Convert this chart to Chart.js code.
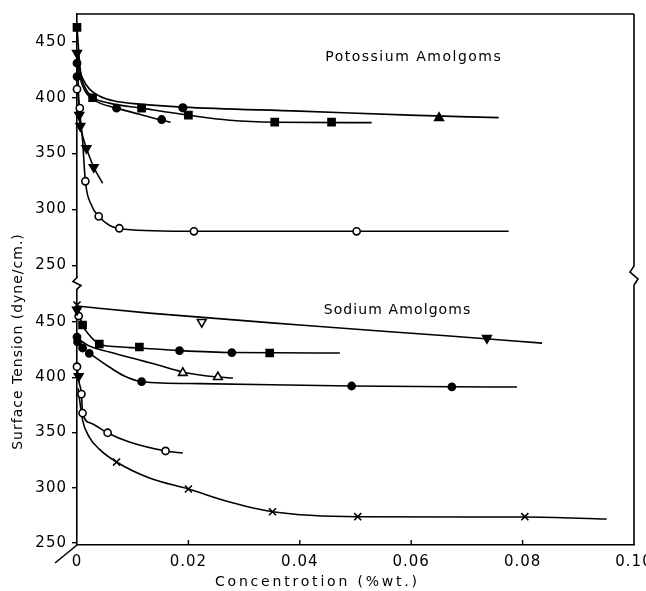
<!DOCTYPE html>
<html><head><meta charset="utf-8">
<script src="https://cdn.jsdelivr.net/npm/chart.js@4.4.1/dist/chart.umd.min.js"></script>
<style>
html,body{margin:0;padding:0;background:#fff;}
#wrap{position:relative;width:646px;height:591px;overflow:hidden;background:#fff;}
#wrap canvas{position:absolute;left:0;top:0;}
</style></head><body>
<div id="wrap"><canvas id="bot" width="646" height="591"></canvas><canvas id="top" width="646" height="591"></canvas></div>
<script>
// ---------------- data ----------------
const xTicks = [0, 0.02, 0.04, 0.06, 0.08, 0.10];
const xTickLabels = ['0', '0.02', '0.04', '0.06', '0.08', '0.10'];
const yTicks = [250, 300, 350, 400, 450];
const yTickLabels = ['250', '300', '350', '400', '450'];

const xTitle = 'Concentrotion (%wt.)';
const yTitle = 'Surface Tension (dyne/cm.)';
const topLabel = 'Potossium Amolgoms';
const botLabel = 'Sodium Amolgoms';

// Potassium amalgams: fitted curves
const kUpperCurveX = [0.0001, 0.00045, 0.00117, 0.00225, 0.004, 0.0067, 0.0112, 0.019, 0.040, 0.0597, 0.0757];
const kUpperCurveY = [442.7, 426.6, 415.8, 407.7, 401.5, 397.0, 394.3, 391.6, 388.0, 384.4, 382.2];
const kSquareCurveX = [0, 0.0006, 0.0015, 0.0028, 0.0058, 0.0116, 0.020, 0.0274, 0.0355, 0.0529];
const kSquareCurveY = [463, 424.8, 408.6, 400.6, 395.2, 390.7, 384.4, 379.9, 378.1, 377.7];
const kDotCurveX = [0.0001, 0.0005, 0.00135, 0.0031, 0.0071, 0.0112, 0.0152, 0.0168];
const kDotCurveY = [431, 419, 406.8, 397.9, 390.7, 385.3, 379.9, 378.1];
const kTriCurveX = [0.0001, 0.0004, 0.0006, 0.001, 0.0017, 0.003, 0.0046];
const kTriCurveY = [440, 384, 375, 366, 354.8, 337.8, 323.4];
const kOpenCurveX = [0.0001, 0.00045, 0.001, 0.0015, 0.0026, 0.0039, 0.0058, 0.0085, 0.021, 0.0502, 0.0775];
const kOpenCurveY = [407.7, 388.9, 362, 325.2, 303.7, 293.8, 285.8, 282.2, 280.4, 280.4, 280.5];

// Potassium amalgams: measured points
const kSquareX = [0, 0.0028, 0.0116, 0.020, 0.0355, 0.0457];
const kSquareY = [463, 400, 390.7, 384.4, 378.1, 378.1];
const kDotX = [0, 0, 0.0071, 0.0152];
const kDotY = [431, 419, 390.7, 380.5];
const kHalfX = [0.019];
const kHalfY = [391];
const kTriUpX = [0.065];
const kTriUpY = [382];
const kTriDownX = [0, 0.0004, 0.0006, 0.0017, 0.003];
const kTriDownY = [440, 384.4, 374.6, 354.8, 337.8];
const kOpenX = [0, 0.0005, 0.0015, 0.0039, 0.0076, 0.021, 0.0502];
const kOpenY = [407.7, 390.7, 325.2, 293.8, 283.1, 280.4, 280.4];

// Sodium amalgams: fitted curves
const nTopCurveX = [0, 0.013, 0.040, 0.0669, 0.0835];
const nTopCurveY = [464.5, 458.1, 447.3, 437.3, 430.9];
const nSquareCurveX = [0.0003, 0.001, 0.0022, 0.004, 0.0067, 0.0112, 0.0184, 0.0278, 0.0472];
const nSquareCurveY = [459, 447.3, 438.2, 430.1, 427.8, 426.5, 424.2, 422.4, 422];
const nTriCurveX = [0.0002, 0.0022, 0.0058, 0.0112, 0.0139, 0.019, 0.0252, 0.028];
const nTriCurveY = [434.6, 428.3, 422.9, 415.6, 412, 404.8, 400.2, 399.3];
const nDotCurveX = [0.0001, 0.001, 0.0022, 0.0058, 0.0085, 0.0116, 0.022, 0.0493, 0.0673, 0.079];
const nDotCurveY = [432, 426.5, 422, 409.3, 401.1, 396, 394.3, 392.1, 391.4, 391.2];
const nOpenCurveX = [0, 0.0004, 0.0008, 0.001, 0.0025, 0.0055, 0.0094, 0.0159, 0.019];
const nOpenCurveY = [409.6, 395, 384.8, 367.6, 358.5, 349.5, 341.4, 333.3, 331.4];
const nCrossCurveX = [0.0002, 0.001, 0.0022, 0.004, 0.0071, 0.013, 0.020, 0.0274, 0.0351, 0.0504, 0.0804, 0.0951];
const nCrossCurveY = [390, 361.3, 345.9, 335, 323.3, 308.8, 298.9, 287.1, 278.3, 273.8, 273.5, 271.7];

// Sodium amalgams: measured points
const nCrossX = [0, 0.0071, 0.020, 0.0351, 0.0504, 0.0804];
const nCrossY = [465.4, 323.3, 298.9, 278.3, 273.8, 273.8];
const nTriOpenDownX = [0.0224];
const nTriOpenDownY = [450];
const nTriDownX = [0, 0.0003, 0.0736];
const nTriDownY = [461, 401, 435.5];
const nSquareX = [0.001, 0.004, 0.0112, 0.0346];
const nSquareY = [447.3, 430.1, 427.4, 422];
const nDotX = [0.0184, 0.0278, 0, 0.0001, 0.001, 0.0022, 0.0116, 0.0493, 0.0673];
const nDotY = [424.2, 422.4, 436.4, 432, 426.5, 421.7, 396, 392.1, 391.4];
const nTriOpenUpX = [0.019, 0.0253];
const nTriOpenUpY = [404, 400.2];
const nOpenX = [0.0003, 0, 0.0008, 0.001, 0.0055, 0.0159];
const nOpenY = [455.4, 409.6, 384.8, 367.6, 349.8, 333.3];

// ---------------- helpers ----------------
const FONT = "'DejaVu Sans', sans-serif";
function pts(xs, ys) { return xs.map((x, i) => ({ x: x, y: ys[i] })); }
function curve(xs, ys) {
  return { data: pts(xs, ys), showLine: true, borderColor: '#000', borderWidth: 1.6,
    pointRadius: 0, pointHoverRadius: 0, fill: false, cubicInterpolationMode: 'monotone', order: 2, clip: false };
}
function marks(xs, ys, style, filled, r, rot) {
  return { data: pts(xs, ys), showLine: false, pointStyle: style, pointRadius: r, pointHoverRadius: r,
    rotation: rot || 0, pointBackgroundColor: filled ? '#000' : '#fff', pointBorderColor: '#000',
    pointBorderWidth: 1.6, order: 1, clip: false };
}
function yScale(min, max) {
  return {
    type: 'linear', min: min, max: max,
    afterFit(s) { s.width = 77; s.paddingTop = 0; s.paddingBottom = 0; },
    afterBuildTicks(s) { s.ticks = yTicks.map(v => ({ value: v })); },
    ticks: { color: '#000', font: { family: FONT, size: 15 }, padding: 5,
      callback: (v) => yTickLabels[yTicks.indexOf(v)] },
    grid: { drawOnChartArea: false, tickLength: 5, color: '#000', lineWidth: 1.4 },
    border: { color: '#000', width: 1.6 }
  };
}
function line(ctx, coords, w) {
  ctx.beginPath();
  ctx.moveTo(coords[0][0], coords[0][1]);
  for (let i = 1; i < coords.length; i++) ctx.lineTo(coords[i][0], coords[i][1]);
  ctx.lineWidth = w || 1.6; ctx.strokeStyle = '#000'; ctx.stroke();
}
function text(ctx, s, x, y, size, spacing, rot) {
  ctx.save();
  ctx.translate(x, y);
  if (rot) ctx.rotate(rot);
  ctx.font = size + 'px ' + FONT;
  ctx.letterSpacing = spacing + 'px';
  ctx.fillStyle = '#000';
  ctx.textAlign = 'center';
  ctx.textBaseline = 'middle';
  ctx.fillText(s, spacing / 2, 0);
  ctx.restore();
}
const spacingPlugin = { id: 'spacing', beforeDraw(chart) { chart.ctx.letterSpacing = '1px'; } };

// ---------------- top chart (Potassium) ----------------
const topFrame = {
  id: 'topFrame',
  afterDraw(chart) {
    const ctx = chart.ctx, a = chart.chartArea;
    ctx.save();
    ctx.letterSpacing = '0px';
    line(ctx, [[a.left, a.top], [a.right, a.top]]);
    line(ctx, [[a.right, a.top], [a.right, 266], [630, 272], [638, 279], [a.right, 285]]);
    text(ctx, topLabel, 413, 57, 14, 1.5);
    ctx.restore();
  }
};
new Chart(document.getElementById('top'), {
  type: 'line',
  data: { datasets: [
    curve(kUpperCurveX, kUpperCurveY), curve(kSquareCurveX, kSquareCurveY), curve(kDotCurveX, kDotCurveY),
    curve(kTriCurveX, kTriCurveY), curve(kOpenCurveX, kOpenCurveY),
    marks(kSquareX, kSquareY, 'rect', true, 5), marks(kDotX, kDotY, 'circle', true, 3.6),
    marks(kHalfX, kHalfY, 'circle', true, 3.8), marks(kTriUpX, kTriUpY, 'triangle', true, 5),
    marks(kTriDownX, kTriDownY, 'triangle', true, 5, 180), marks(kOpenX, kOpenY, 'circle', false, 3.6)
  ] },
  options: {
    responsive: false, animation: false, events: [],
    layout: { padding: { left: 0, top: 14, right: 12, bottom: 591 - 276.4 } },
    plugins: { legend: { display: false }, tooltip: { enabled: false } },
    scales: {
      x: { type: 'linear', min: 0, max: 0.1, display: false },
      y: yScale(240, 475)
    }
  },
  plugins: [spacingPlugin, topFrame]
});

// ---------------- bottom chart (Sodium) ----------------
const botFrame = {
  id: 'botFrame',
  afterDraw(chart) {
    const ctx = chart.ctx, a = chart.chartArea, xs = chart.scales.x;
    ctx.save();
    ctx.letterSpacing = '0px';
    line(ctx, [[a.right, 285], [a.right, a.bottom]]);
    line(ctx, [[a.left, 276.4], [a.left, 277.5], [a.left - 4, 281.5], [a.left + 4, 285.5], [a.left, 289.2], [a.left, a.top]]);
    line(ctx, [[a.left, a.bottom], [a.left - 22, a.bottom + 18]]);
    xTicks.forEach(v => { if (v > 0 && v < 0.1) { const px = xs.getPixelForValue(v); line(ctx, [[px, a.bottom], [px, a.bottom - 5]], 1.4); } });
    text(ctx, botLabel, 397, 310, 14, 1.1);
    text(ctx, xTitle, 316, 582, 14, 2.8);
    text(ctx, yTitle, 18, 342, 14, 1, -Math.PI / 2);
    ctx.restore();
  }
};
new Chart(document.getElementById('bot'), {
  type: 'line',
  data: { datasets: [
    curve(nTopCurveX, nTopCurveY), curve(nSquareCurveX, nSquareCurveY), curve(nTriCurveX, nTriCurveY),
    curve(nDotCurveX, nDotCurveY), curve(nOpenCurveX, nOpenCurveY), curve(nCrossCurveX, nCrossCurveY),
    marks(nCrossX, nCrossY, 'crossRot', false, 5), marks(nTriOpenDownX, nTriOpenDownY, 'triangle', false, 5, 180),
    marks(nTriDownX, nTriDownY, 'triangle', true, 5, 180), marks(nSquareX, nSquareY, 'rect', true, 5),
    marks(nDotX, nDotY, 'circle', true, 3.6), marks(nTriOpenUpX, nTriOpenUpY, 'triangle', false, 5),
    marks(nOpenX, nOpenY, 'circle', false, 3.6)
  ] },
  options: {
    responsive: false, animation: false, events: [],
    layout: { padding: { left: 0, top: 290, right: 12, bottom: 0 } },
    plugins: { legend: { display: false }, tooltip: { enabled: false } },
    scales: {
      x: {
        type: 'linear', min: 0, max: 0.1,
        afterFit(s) { s.height = 46; s.paddingLeft = 0; s.paddingRight = 0; },
        afterBuildTicks(s) { s.ticks = xTicks.map(v => ({ value: v })); },
        ticks: { color: '#000', font: { family: FONT, size: 15 }, padding: 8, maxRotation: 0, autoSkip: false,
          callback: (v) => xTickLabels[xTicks.indexOf(v)] },
        grid: { drawOnChartArea: false, drawTicks: false },
        border: { color: '#000', width: 1.6 }
      },
      y: yScale(248.2, 479)
    }
  },
  plugins: [spacingPlugin, botFrame]
});
</script>
</body></html>
